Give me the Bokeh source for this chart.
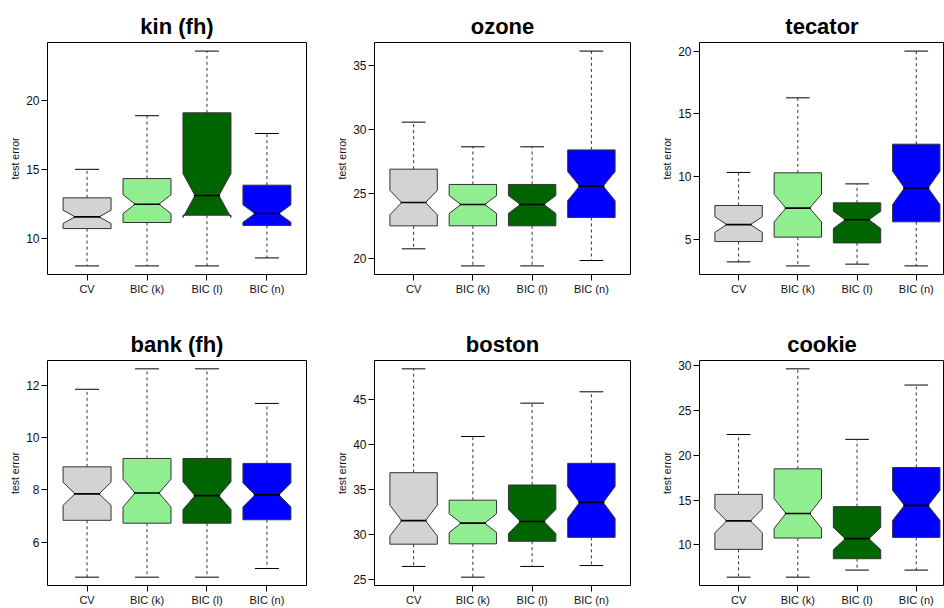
from bokeh.plotting import figure
from bokeh.layouts import column, row
from bokeh.models import FixedTicker, Range1d
from bokeh.embed import file_html
from bokeh.resources import INLINE
import math

methods = ["CV", "BIC (k)", "BIC (l)", "BIC (n)"]
colors = ["#D3D3D3", "#90EE90", "#006400", "#0000FF"]
n_runs = 54  # runs per method (sets notch width, as in R's boxplot)

# ---- five-number summaries per data set: whisker low, Q1, median, Q3, whisker high
kin_wlo = [7.99, 7.99, 7.99, 8.57]
kin_q1 = [10.70, 11.14, 11.67, 10.92]
kin_med = [11.55, 12.47, 13.10, 11.79]
kin_q3 = [12.93, 14.33, 19.10, 13.85]
kin_whi = [15.00, 18.89, 23.58, 17.60]
kin_ticks = [10, 15, 20]

ozone_wlo = [20.73, 19.40, 19.40, 19.82]
ozone_q1 = [22.52, 22.52, 22.52, 23.17]
ozone_med = [24.33, 24.18, 24.18, 25.61]
ozone_q3 = [26.93, 25.74, 25.74, 28.43]
ozone_whi = [30.59, 28.67, 28.67, 36.12]
ozone_ticks = [20, 25, 30, 35]

tecator_wlo = [3.22, 2.90, 3.04, 2.90]
tecator_q1 = [4.84, 5.19, 4.73, 6.41]
tecator_med = [6.19, 7.50, 6.57, 9.11]
tecator_q3 = [7.71, 10.31, 7.92, 12.59]
tecator_whi = [10.34, 16.28, 9.43, 20.00]
tecator_ticks = [5, 10, 15, 20]

bank_wlo = [4.67, 4.67, 4.67, 5.00]
bank_q1 = [6.84, 6.73, 6.73, 6.86]
bank_med = [7.85, 7.88, 7.78, 7.81]
bank_q3 = [8.88, 9.20, 9.20, 9.01]
bank_whi = [11.84, 12.62, 12.62, 11.30]
bank_ticks = [6, 8, 10, 12]

boston_wlo = [26.44, 25.25, 26.44, 26.54]
boston_q1 = [28.91, 28.95, 29.24, 29.67]
boston_med = [31.53, 31.25, 31.43, 33.55]
boston_q3 = [36.85, 33.80, 35.48, 37.89]
boston_whi = [48.38, 40.87, 44.57, 45.83]
boston_ticks = [25, 30, 35, 40, 45]

cookie_wlo = [6.39, 6.39, 7.18, 7.18]
cookie_q1 = [9.49, 10.76, 8.45, 10.83]
cookie_med = [12.67, 13.50, 10.69, 14.40]
cookie_q3 = [15.63, 18.48, 14.26, 18.63]
cookie_whi = [22.31, 29.64, 21.77, 27.83]
cookie_ticks = [10, 15, 20, 25, 30]

panels = [
    ("kin (fh)", kin_wlo, kin_q1, kin_med, kin_q3, kin_whi, kin_ticks),
    ("ozone", ozone_wlo, ozone_q1, ozone_med, ozone_q3, ozone_whi, ozone_ticks),
    ("tecator", tecator_wlo, tecator_q1, tecator_med, tecator_q3, tecator_whi, tecator_ticks),
    ("bank (fh)", bank_wlo, bank_q1, bank_med, bank_q3, bank_whi, bank_ticks),
    ("boston", boston_wlo, boston_q1, boston_med, boston_q3, boston_whi, boston_ticks),
    ("cookie", cookie_wlo, cookie_q1, cookie_med, cookie_q3, cookie_whi, cookie_ticks),
]

FONT = "Liberation Sans"
WID = 0.4      # half box width (boxwex 0.8)
NW = 0.5       # notch width fraction
STAPLE = 0.2   # half staple width
X0 = 0.34      # R's 4% expanded x-limits
UNITS_PER_PX = (4.66 - 0.34) / 259.0

# (width, left border, right border) per column; (height, top border, bottom border) per row
COLS = [(333, 47, 27), (325, 38, 28), (286, 38, 0)]
ROWS = [(325, 42, 51), (283, 34, 0)]

def make_panel(idx, title, wlo, q1, med, q3, whi, ticks):
    width, left, right = COLS[idx % 3]
    height, top, bottom = ROWS[idx // 3]
    frame_w = width - left - right

    lo, hi = min(wlo), max(whi)
    pad = 0.04 * (hi - lo)
    p = figure(width=width, height=height, output_backend="svg", toolbar_location=None,
               x_range=Range1d(X0, X0 + frame_w * UNITS_PER_PX),
               y_range=Range1d(lo - pad, hi + pad),
               min_border_left=left, min_border_right=right,
               min_border_top=top, min_border_bottom=bottom)
    p.background_fill_color = "white"
    p.border_fill_color = "white"
    p.outline_line_color = "black"
    p.outline_line_width = 1
    p.xgrid.visible = False
    p.ygrid.visible = False

    p.title.text = title
    p.title.text_font = FONT
    p.title.text_font_size = "22px"
    p.title.text_font_style = "bold"
    p.title.align = "center"
    p.title.text_color = "black"
    p.title.standoff = 8

    # axes
    p.yaxis.ticker = FixedTicker(ticks=ticks)
    p.yaxis.axis_label = "test error"
    p.yaxis.axis_label_text_font = FONT
    p.yaxis.axis_label_text_font_size = "10.5px"
    p.yaxis.axis_label_text_font_style = "normal"
    p.yaxis.axis_label_text_color = "#111111"
    p.yaxis.axis_label_standoff = 2
    p.yaxis.major_label_text_font = FONT
    p.yaxis.major_label_text_font_size = "12px"
    p.yaxis.major_label_text_color = "#111111"
    p.yaxis.major_label_standoff = 2

    p.xaxis.ticker = FixedTicker(ticks=[1, 2, 3, 4])
    p.xaxis.major_label_overrides = {i + 1: m for i, m in enumerate(methods)}
    p.xaxis.major_label_text_font = FONT
    p.xaxis.major_label_text_font_size = "11px"
    p.xaxis.major_label_text_color = "#111111"
    p.xaxis.major_label_standoff = 2
    for ax in (p.xaxis, p.yaxis):
        ax.axis_line_color = None
        ax.major_tick_out = 6
        ax.major_tick_in = 0
        ax.minor_tick_line_color = None
        ax.major_tick_line_color = "black"

    xs_poly, ys_poly = [], []
    for i in range(4):
        x = i + 1
        iqr = q3[i] - q1[i]
        half = 1.58 * iqr / math.sqrt(n_runs)
        nlo, nhi = med[i] - half, med[i] + half
        xs_poly.append([x + WID * k for k in (-1, 1, 1, NW, 1, 1, -1, -1, -NW, -1)])
        ys_poly.append([q1[i], q1[i], nlo, med[i], nhi, q3[i], q3[i], nhi, med[i], nlo])

    xc = [i + 1 for i in range(4)]
    # whiskers (dashed)
    p.segment(x0=xc, y0=q3, x1=xc, y1=whi, line_color="#333333", line_width=1, line_dash="3 3")
    p.segment(x0=xc, y0=q1, x1=xc, y1=wlo, line_color="#333333", line_width=1, line_dash="3 3")
    # staples
    p.segment(x0=[x - STAPLE for x in xc], y0=whi, x1=[x + STAPLE for x in xc], y1=whi,
              line_color="black", line_width=1)
    p.segment(x0=[x - STAPLE for x in xc], y0=wlo, x1=[x + STAPLE for x in xc], y1=wlo,
              line_color="black", line_width=1)
    # notched boxes
    p.patches(xs=xs_poly, ys=ys_poly, fill_color=colors, line_color="#333333", line_width=1)
    # medians
    p.segment(x0=[x - WID * 0.55 for x in xc], y0=med, x1=[x + WID * 0.55 for x in xc], y1=med,
              line_color="black", line_width=1.6)
    return p

figs = [make_panel(i, *pnl) for i, pnl in enumerate(panels)]
layout = column(row(*figs[:3]), row(*figs[3:]))

html = file_html(layout, INLINE, title="boxplots")
open("out.html", "w").write(html)
